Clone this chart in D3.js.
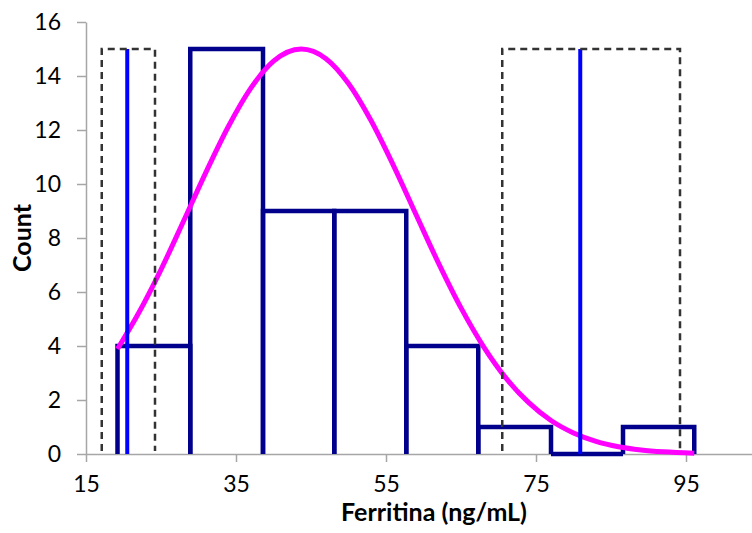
<!DOCTYPE html>
<html>
<head>
<meta charset="utf-8">
<script src="https://cdn.jsdelivr.net/npm/d3@7"></script>
<style>
  body { margin: 0; background: #fff; }
  text { font-family: Lato, "Open Sans", sans-serif; fill: #000; }
</style>
</head>
<body>
<div id="chart"></div>
<script>
// histogram bins (edges) and counts
const binEdges = [19.2, 28.9, 38.6, 48.1, 57.7, 67.3, 77.0, 86.6, 96.1]
const binCounts = [4, 15, 9, 9, 4, 1, 0, 1]

// fitted curve, points
const curveX = [19.2, 22, 25, 28, 31, 34, 37, 40, 43.7, 47, 50, 53, 56, 59, 62, 65, 68, 71, 74, 77, 80, 83, 86, 89, 92, 96.1]
const curveY = [3.89, 5.21, 6.83, 8.62, 10.44, 12.14, 13.56, 14.55, 15, 14.64, 13.72, 12.35, 10.68, 8.87, 7.07, 5.41, 3.98, 2.81, 1.91, 1.24, 0.78, 0.47, 0.27, 0.15, 0.08, 0.03]

// blue marker lines and dashed ranges
const markerX = [20.5, 80.9]
const markerTop = 15
const rangeLo = [17.1, 70.5]
const rangeHi = [24.2, 94.2]

const xTicks = [15, 35, 55, 75, 95]
const yTicks = [0, 2, 4, 6, 8, 10, 12, 14, 16]

const width = 752
const height = 533

var svg = d3.select("#chart").append("svg")
    .attr("width", width)
    .attr("height", height)

var x = d3.scaleLinear().domain([15, 104]).range([86, 753.5])
var y = d3.scaleLinear().domain([0, 16]).range([454, 22])

// axes
var xAxis = svg.append("g")
    .attr("transform", "translate(0," + y(0) + ")")
    .call(d3.axisBottom(x).tickValues(xTicks).tickSize(8).tickPadding(14).tickSizeOuter(0))
var yAxis = svg.append("g")
    .attr("transform", "translate(" + x(15) + ",0)")
    .call(d3.axisLeft(y).tickValues(yTicks).tickSize(9).tickPadding(16).tickSizeOuter(0))

svg.selectAll(".domain, .tick line")
    .attr("stroke", "#a6a6a6")
    .attr("stroke-width", 1.5)
svg.selectAll(".tick text")
    .style("font-size", "23px")
    .style("font-family", "Lato, 'Open Sans', sans-serif")

// histogram outline
var bins = binCounts.map((c, i) => ({x0: binEdges[i], x1: binEdges[i + 1], n: c}))
svg.append("g").selectAll("path")
    .data(bins)
    .enter()
    .append("path")
    .attr("d", d => "M" + x(d.x0) + "," + y(0) + "V" + y(d.n) + "H" + x(d.x1) + "V" + y(0))
    .attr("fill", "none")
    .attr("stroke", "#00008c")
    .attr("stroke-width", 4.5)

// curve
var pts = curveX.map((v, i) => [v, curveY[i]])
var line = d3.line()
    .x(d => x(d[0]))
    .y(d => y(d[1]))
    .curve(d3.curveMonotoneX)
svg.append("path")
    .datum(pts)
    .attr("d", line)
    .attr("fill", "none")
    .attr("stroke", "#ff00ff")
    .attr("stroke-width", 5)

// blue lines
svg.append("g").selectAll("line")
    .data(markerX)
    .enter()
    .append("line")
    .attr("x1", d => x(d))
    .attr("x2", d => x(d))
    .attr("y1", y(0))
    .attr("y2", y(markerTop))
    .attr("stroke", "#0000ff")
    .attr("stroke-width", 4)

// dashed ranges
svg.append("g").selectAll("path")
    .data(rangeLo.map((lo, i) => [lo, rangeHi[i]]))
    .enter()
    .append("path")
    .attr("d", d => "M" + x(d[0]) + "," + (y(0) - 3) + "V" + y(markerTop) + "H" + x(d[1]) + "V" + (y(0) - 3))
    .attr("fill", "none")
    .attr("stroke", "#333")
    .attr("stroke-width", 2.5)
    .attr("stroke-dasharray", "7,5")

// axis titles
svg.append("text")
    .attr("x", 434)
    .attr("y", 521)
    .attr("text-anchor", "middle")
    .style("font-size", "25px")
    .style("font-weight", "bold")
    .text("Ferritina (ng/mL)")

svg.append("text")
    .attr("transform", "translate(31,238) rotate(-90)")
    .attr("text-anchor", "middle")
    .style("font-size", "25px")
    .style("font-weight", "bold")
    .text("Count")
</script>
</body>
</html>
